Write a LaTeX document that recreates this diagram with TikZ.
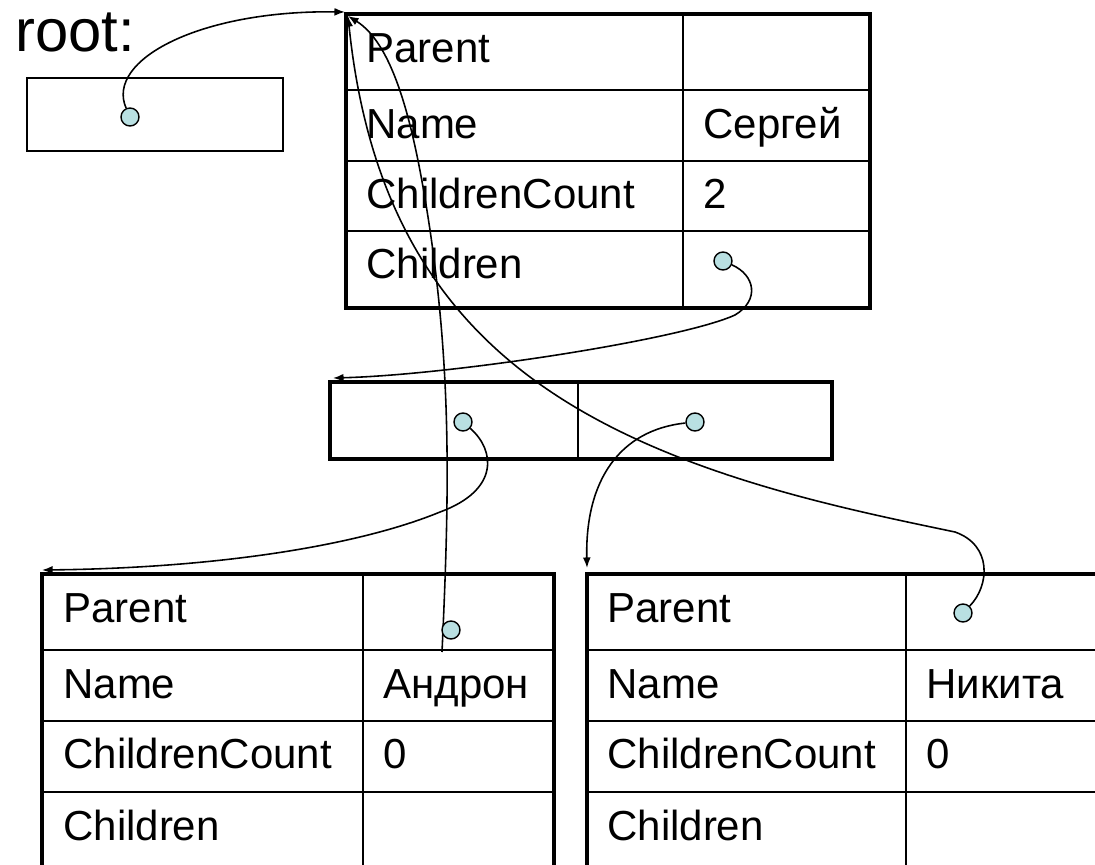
\documentclass[tikz,border=0pt]{standalone}
\usepackage{fontspec}
\setmainfont{Liberation Sans}
\usetikzlibrary{arrows.meta}
\definecolor{dotfill}{RGB}{185,224,226}

\begin{document}
\begin{tikzpicture}[x=0.02cm,y=-0.02cm,
    tableborder/.style={line width=2.8pt},
    cellline/.style={line width=1.1pt},
    field/.style={anchor=base west,inner sep=0pt,font=\fontsize{23.9}{28}\selectfont},
    ptrdot/.style={circle,draw,fill=dotfill,line width=0.8pt,minimum size=0.36cm,inner sep=0pt},
    ref/.style={line width=0.9pt,-{Latex[length=6pt,width=4.5pt]}}]
    \useasboundingbox (0,0) rectangle (1095,865);
    \clip (0,0) rectangle (1095,865);

    % root variable
    \node[field,font=\fontsize{34}{40}\selectfont] (rootlabel) at (15,52) {root:};
    \draw[cellline] (27,78) rectangle (283,151);
    \node[ptrdot] (rootdot) at (130,117) {};

    % Sergey (top table)
    \draw[cellline] (346,90) -- (870,90);
    \draw[cellline] (346,161) -- (870,161);
    \draw[cellline] (346,231) -- (870,231);
    \draw[cellline] (683,14) -- (683,308);
    \draw[tableborder] (346,14) rectangle (870,308);
    \node[field] (sparent) at (366,63) {Parent};
    \node[field] (sname) at (366,138) {Name};
    \node[field] (scount) at (366,208) {ChildrenCount};
    \node[field] (schildren) at (366,278) {Children};
    \node[field] (snameval) at (703,138) {Сергей};
    \node[field] (scountval) at (703,208) {2};
    \node[ptrdot] (skids) at (723,261) {};

    % children array
    \draw[cellline] (578,382) -- (578,459);
    \draw[tableborder] (330,382) rectangle (832,459);
    \node[ptrdot] (arrleft) at (463,422) {};
    \node[ptrdot] (arrright) at (695,422) {};

    % Andron (bottom left table)
    \draw[cellline] (42,650) -- (554,650);
    \draw[cellline] (42,721) -- (554,721);
    \draw[cellline] (42,792) -- (554,792);
    \draw[cellline] (363,574) -- (363,880);
    \draw[tableborder] (42,574) rectangle (554,880);
    \node[field] (aparent) at (63,622) {Parent};
    \node[field] (aname) at (63,698) {Name};
    \node[field] (acount) at (63,768) {ChildrenCount};
    \node[field] (achildren) at (63,840) {Children};
    \node[field] (anameval) at (383,698) {Андрон};
    \node[field] (acountval) at (383,768) {0};

    % Nikita (bottom right table)
    \draw[cellline] (587,650) -- (1120,650);
    \draw[cellline] (587,721) -- (1120,721);
    \draw[cellline] (587,792) -- (1120,792);
    \draw[cellline] (906,574) -- (906,880);
    \draw[tableborder] (587,574) rectangle (1120,880);
    \node[field] (nparent) at (607,622) {Parent};
    \node[field] (nname) at (607,698) {Name};
    \node[field] (ncount) at (607,768) {ChildrenCount};
    \node[field] (nchildren) at (607,840) {Children};
    \node[field] (nnameval) at (926,698) {Никита};
    \node[field] (ncountval) at (926,768) {0};
    \node[ptrdot] (nikitaparent) at (963,613) {};

    % arrow ends
    \coordinate (sergeycorner) at (345,12);
    \coordinate (sergeytip) at (348,16);
    \coordinate (arraycorner) at (333,378);
    \coordinate (androncorner) at (42,570);
    \coordinate (nikitacorner) at (587,568);
    \coordinate (androntail) at (442,652);

    % pointers
    \draw[ref] (rootdot) .. controls (105,60) and (200,10) .. (sergeycorner);
    \draw[ref] (skids) .. controls (755,275) and (760,300) .. (735,315)
        .. controls (680,340) and (450,375) .. (arraycorner);
    \draw[ref] (arrleft) .. controls (495,450) and (500,490) .. (440,512)
        .. controls (360,545) and (220,568) .. (androncorner);
    \draw[ref] (arrright) .. controls (620,430) and (585,480) .. (nikitacorner);
    \draw[ref] (androntail) .. controls (449,500) and (452,380) .. (430,230)
        .. controls (415,130) and (395,45) .. (sergeytip);
    \draw[ref] (nikitaparent) .. controls (990,585) and (992,545) .. (955,532)
        .. controls (850,510) and (700,480) .. (580,410)
        .. controls (460,340) and (370,230) .. (sergeytip);
    \node[ptrdot] (andronparent) at (451,630) {};
\end{tikzpicture}
\end{document}
